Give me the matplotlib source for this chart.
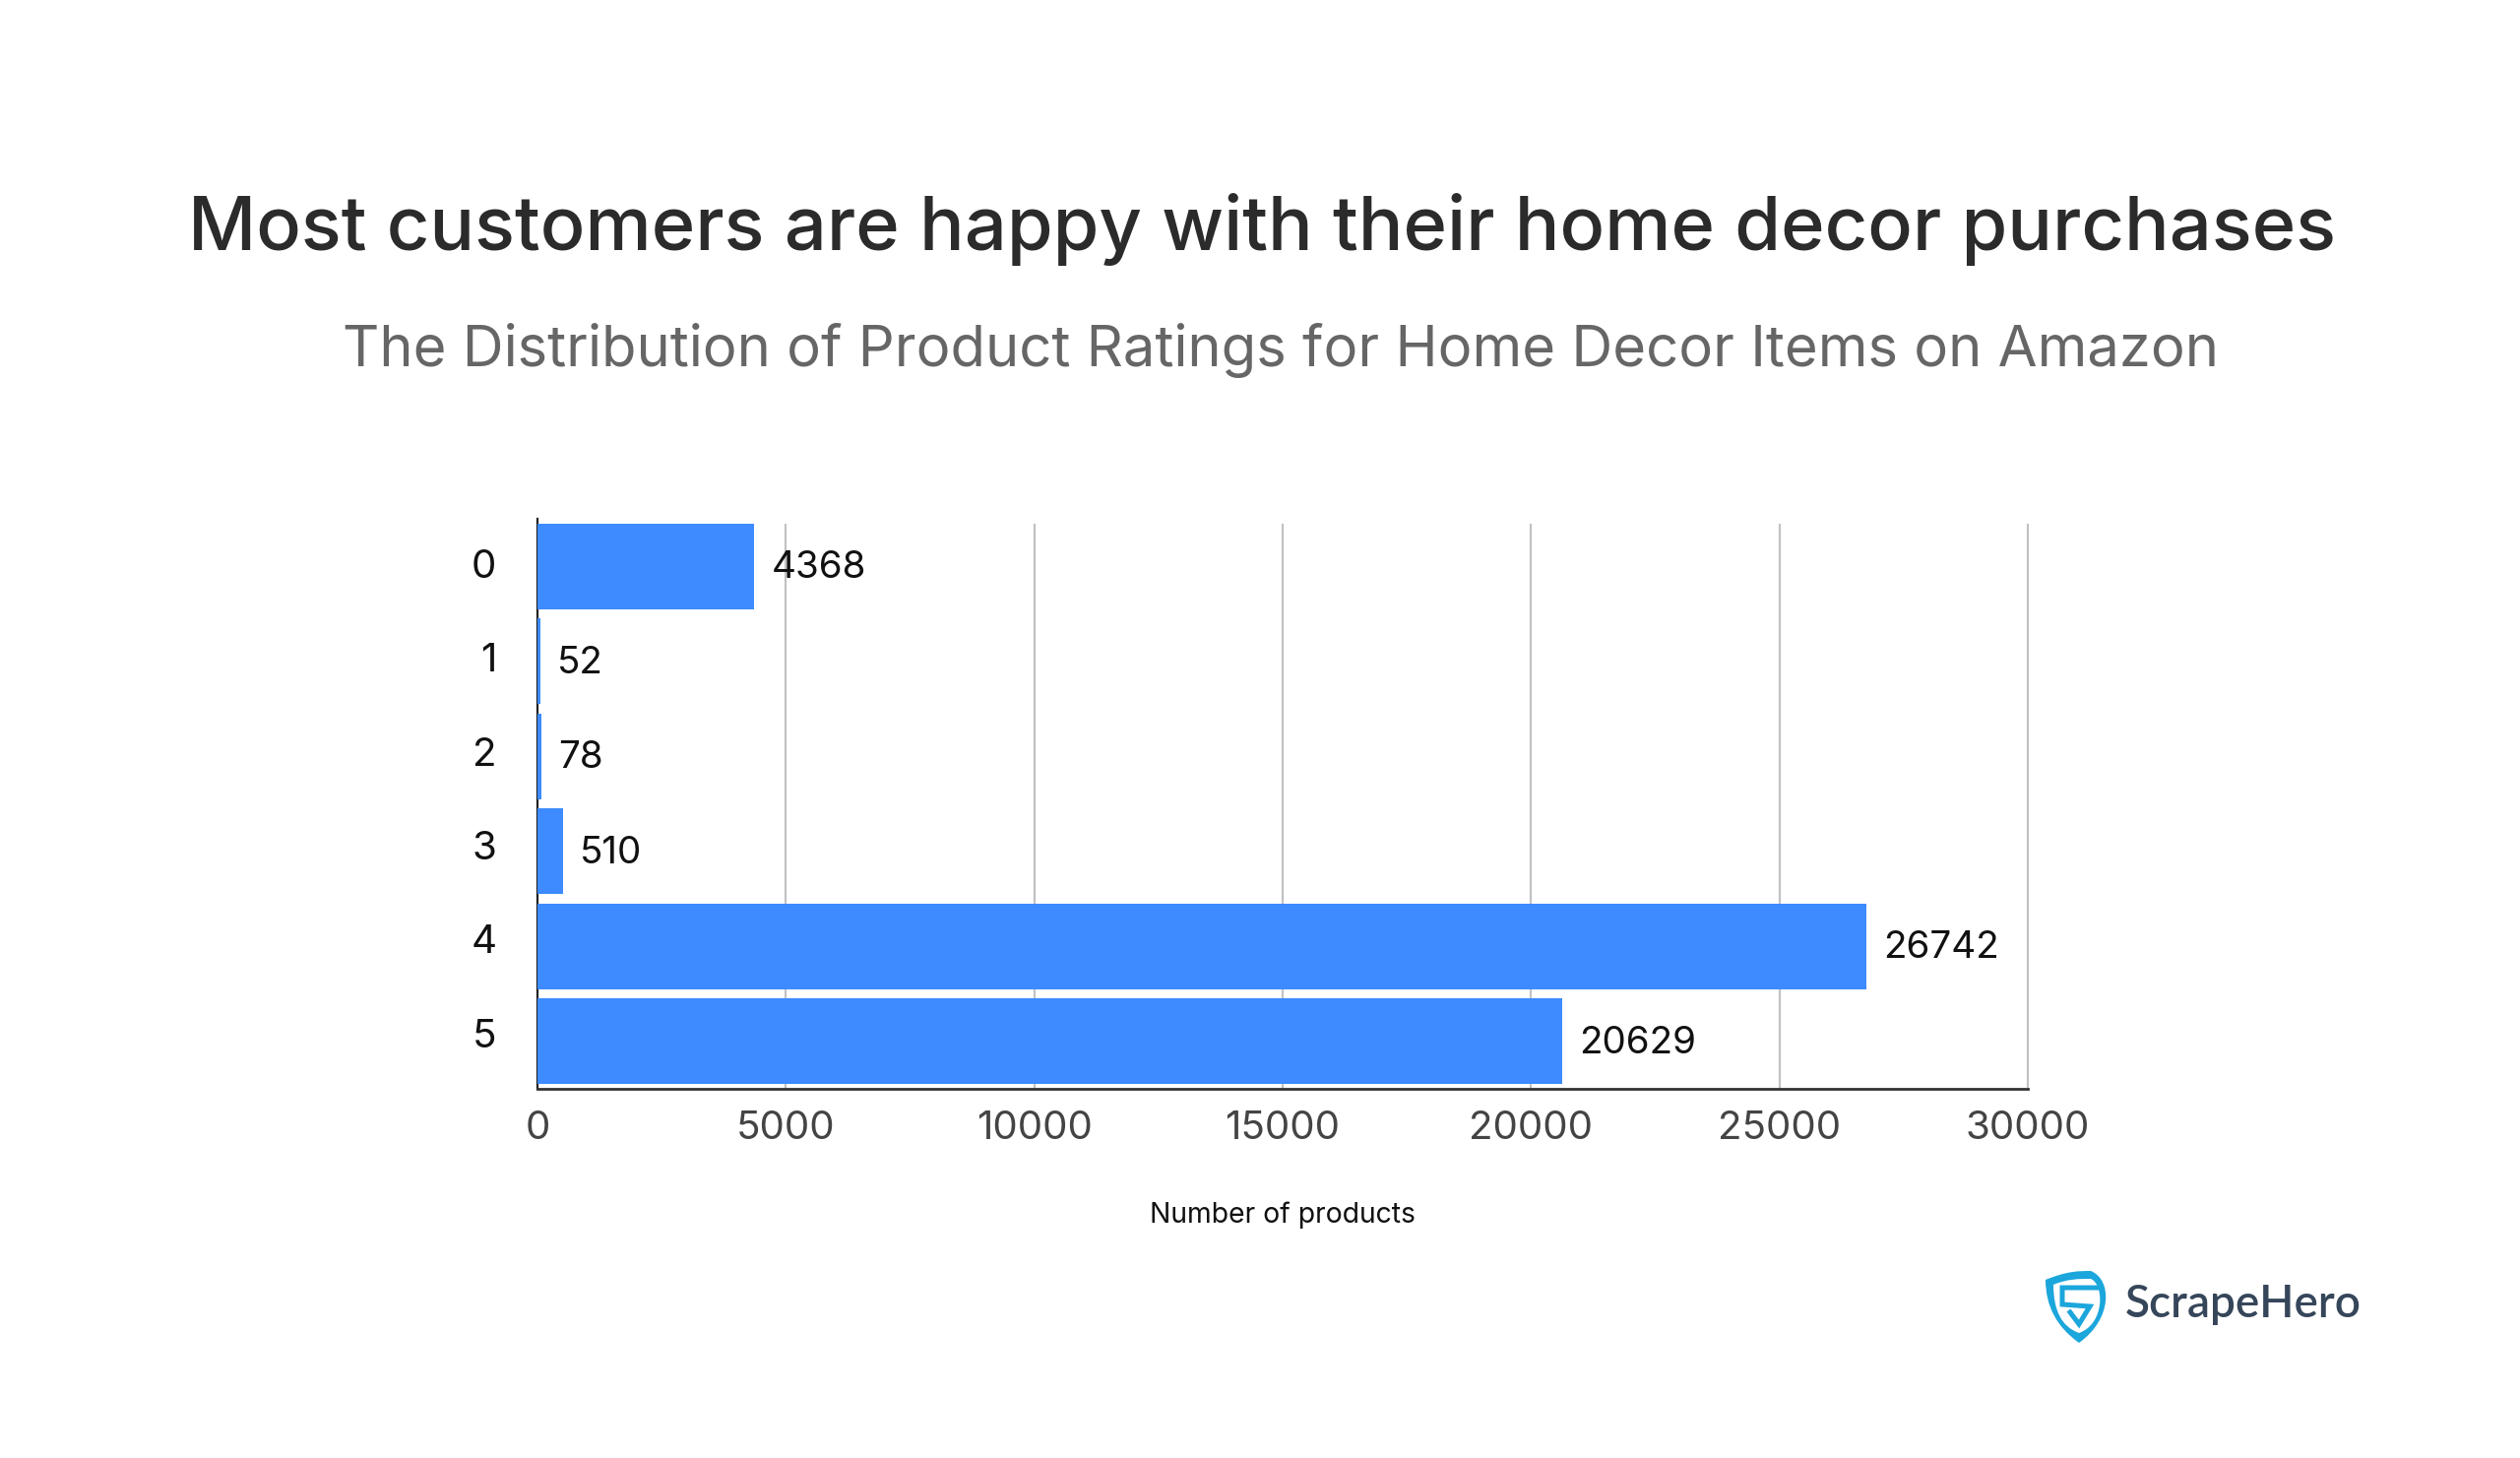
import matplotlib
matplotlib.use("Agg")
import matplotlib.pyplot as plt
from matplotlib.patches import PathPatch
from matplotlib.path import Path as MplPath

ratings = ["0", "1", "2", "3", "4", "5"]
counts = [4368, 52, 78, 510, 26742, 20629]
x_ticks = [0, 5000, 10000, 15000, 20000, 25000, 30000]

W, H = 2560, 1481
FONT = "Inter"


def fx(px):
    return px / W


def fy(py):
    return 1 - py / H


def shield(x0, x1, y_top, y_mid, y_low):
    # symmetric shield outline in pixel coordinates
    xc = (x0 + x1) / 2
    verts = [(x0, y_mid), (xc - 12, y_top), (xc, y_top), (xc + 12, y_top), (x1, y_mid),
             (x1, y_mid + 40), (xc, y_low), (x0, y_mid + 40), (x0, y_mid), (x0, y_mid)]
    codes = [MplPath.MOVETO, MplPath.CURVE4, MplPath.CURVE4, MplPath.CURVE4, MplPath.CURVE4,
             MplPath.CURVE3, MplPath.CURVE3, MplPath.CURVE3, MplPath.CURVE3, MplPath.CLOSEPOLY]
    return MplPath(verts, codes)


fig = plt.figure(figsize=(W / 100, H / 100), dpi=100, facecolor="white")

# axes placed by pixel box of the plot area
left, right, top, bottom = 546, 2060, 527, 1106
ax = fig.add_axes([fx(left), fy(bottom), fx(right - left), (bottom - top) / H])

y_pos = list(range(len(ratings)))
ax.barh(y_pos, counts, height=0.9, color="#3d8bff", zorder=3)
ax.set_xlim(0, 30000)
ax.set_ylim(5.5, -0.5)

# gridlines start at the top of the first bar, not at the top of the axis
ax.vlines(x_ticks[1:], -0.45, 5.5, color="#c2c2c2", linewidth=1.6, zorder=1, clip_on=False)

ax.set_xticks(x_ticks)
ax.set_xticklabels([str(t) for t in x_ticks], fontsize=29, color="#444444", family=FONT)
# category labels sit on a slightly tighter pitch than the bars
ax.set_yticks([y * 0.988 - 0.03 for y in y_pos])
ax.set_yticklabels(ratings, fontsize=29, color="#111111", family=FONT)
ax.tick_params(axis="both", length=0)
ax.tick_params(axis="x", pad=15.5)
ax.tick_params(axis="y", pad=30)

for side in ("top", "right"):
    ax.spines[side].set_visible(False)
ax.spines["left"].set_color("#222222")
ax.spines["left"].set_linewidth(1.6)
ax.spines["bottom"].set_color("#333333")
ax.spines["bottom"].set_linewidth(2)

for y, v in zip(y_pos, counts):
    ax.annotate(str(v), (v, y), xytext=(12.5, -1.5), textcoords="offset points",
                va="center", ha="left", fontsize=27.8, color="#111111", family=FONT, zorder=5)

fig.text(fx(1303), fy(1234), "Number of products", ha="center", va="center",
         fontsize=20.4, color="#111111", family=FONT)

fig.text(fx(1282), fy(233), "Most customers are happy with their home decor purchases",
         ha="center", va="center", fontsize=54.6, fontweight="medium", color="#2b2b2b", family=FONT)
fig.text(fx(1301), fy(356), "The Distribution of Product Ratings for Home Decor Items on Amazon",
         ha="center", va="center", fontsize=41.7, color="#666666", family=FONT)

# logo: shield plus the wordmark
bg = fig.add_axes([0, 0, 1, 1], facecolor="none")
bg.set_xlim(0, W)
bg.set_ylim(H, 0)
bg.axis("off")
bg.add_patch(PathPatch(shield(2078, 2146, 1291, 1300, 1364), facecolor="#1ba6dc", edgecolor="none"))
bg.add_patch(PathPatch(shield(2086, 2138, 1299, 1305, 1354), facecolor="white", edgecolor="none"))
s_x = [2130, 2095, 2095, 2123, 2112, 2103]
s_y = [1308, 1308, 1325, 1327, 1345, 1333]
bg.plot(s_x, s_y, color="#1ba6dc", linewidth=3.6, solid_joinstyle="miter")
fig.text(fx(2159), fy(1338), "ScrapeHero", ha="left", va="baseline", fontsize=33,
         fontweight="semibold", color="#36465a", family="Lato")

fig.savefig("out.png", dpi=100, facecolor="white")
plt.close(fig)
